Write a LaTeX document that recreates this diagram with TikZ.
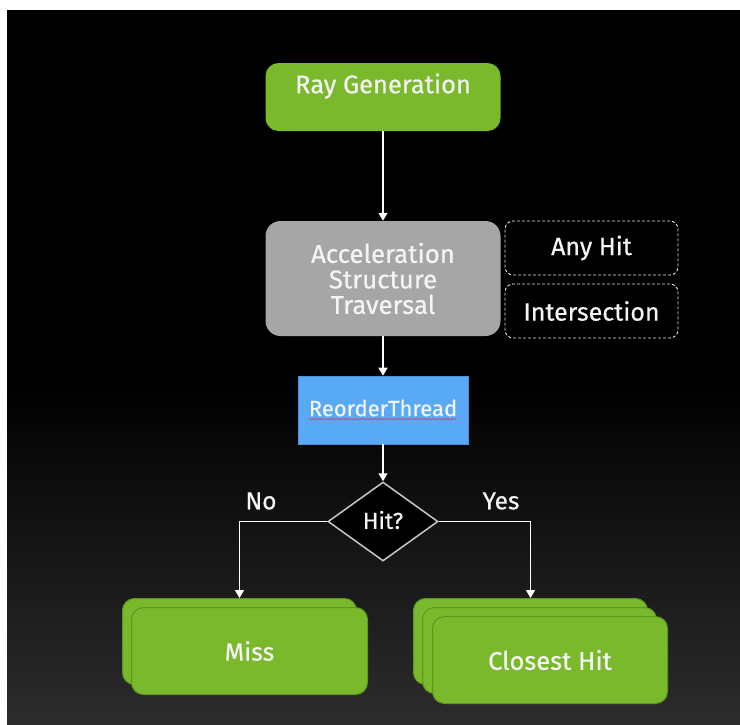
\documentclass[tikz,border=0pt]{standalone}
\usepackage{fontspec}
\setmainfont{Fira Sans}[FakeBold=0.5]
\usetikzlibrary{shapes.geometric,arrows.meta,decorations.pathmorphing}

\definecolor{nvgreen}{HTML}{7AB82C}
\definecolor{nvgreenedge}{HTML}{5E9620}
\definecolor{astgray}{HTML}{A6A6A6}
\definecolor{rtblue}{HTML}{58AAF6}
\definecolor{rtedge}{HTML}{4A92DA}
\definecolor{bgbottom}{HTML}{2C2C2C}
\definecolor{txt}{HTML}{F4F4F4}
\definecolor{diaedge}{HTML}{C8C8C8}
\definecolor{squiggle}{HTML}{D0406A}

\begin{document}
\begin{tikzpicture}[x=1pt,y=-1pt,
  lbl/.style={text=txt, inner sep=0pt, font=\fontsize{25.5}{29}\selectfont},
  greenbox/.style={draw=nvgreenedge, line width=1pt, fill=nvgreen,
    rounded corners=12pt, minimum width=234pt, minimum height=86pt,
    inner sep=0pt, anchor=north west},
  dashbox/.style={draw=white!88!black, line width=0.9pt,
    dash pattern=on 3pt off 2pt, rounded corners=8pt,
    minimum width=173pt, minimum height=54pt, inner sep=0pt,
    text=txt, font=\fontsize{25}{29}\selectfont},
  conn/.style={draw=white, line width=1.6pt,
    -{Triangle[width=9pt,length=8pt]}}
]
% canvas and backdrop
\fill[white] (0,0) rectangle (740,724);
\fill[black] (7,10) rectangle (740,724);
\shade[top color=black, bottom color=bgbottom] (7,380) rectangle (740,724);
\useasboundingbox (0,0) rectangle (740,724);

% ray generation
\node[fill=nvgreen, rounded corners=13pt, minimum width=235pt,
  minimum height=68pt, inner sep=0pt] (raygen) at (383,97) {};
\node[lbl] (raygentext) at (383,86) {Ray Generation};

% traversal
\node[fill=astgray, rounded corners=15pt, minimum width=235pt,
  minimum height=115pt, inner sep=0pt, align=center, text=txt,
  font=\fontsize{25.8}{25.5}\selectfont] (ast) at (383,278.5)
  {Acceleration\\Structure\\Traversal};

% optional shader stages
\node[dashbox] (anyhit) at (591.5,248) {Any Hit};
\node[dashbox] (isect) at (591.5,311) {Intersection};

% reorder step
\node[fill=rtblue, draw=rtedge, line width=0.6pt, minimum width=170pt,
  minimum height=68pt, inner sep=0pt] (reorder) at (383,410) {};
\node[lbl, font=\fontsize{22}{25}\selectfont] (reordertext) at (383,408) {ReorderThread};
\draw[squiggle, line width=0.5pt, decorate,
  decoration={snake, amplitude=0.7pt, segment length=3pt}]
  ([yshift=-3pt]reordertext.base west) -- ([yshift=-3pt]reordertext.base east);

% decision
\node[diamond, draw=diaedge, fill=black, line width=1.5pt,
  minimum width=110pt, minimum height=79pt, inner sep=0pt] (hit) at (383,521.5) {};
\node[lbl, font=\fontsize{23}{26}\selectfont] (hittext) at (383,520) {Hit?};

\node[lbl, font=\fontsize{24.5}{28}\selectfont] (nolbl) at (261,501) {No};
\node[lbl, font=\fontsize{24.5}{28}\selectfont] (yeslbl) at (501,501) {Yes};

% miss stack
\node[greenbox] (missback) at (122,598) {};
\node[greenbox, minimum width=236pt, minimum height=87pt] (miss) at (131,607) {};
\node[lbl, font=\fontsize{25}{29}\selectfont] (misstext) at (miss.center) {Miss};

% closest hit stack
\node[greenbox] (chback) at (413,598) {};
\node[greenbox] (chmid) at (422,607) {};
\node[greenbox, minimum width=235pt, minimum height=87pt] (ch) at (432,616) {};
\node[lbl] (chtext) at (ch.center) {Closest Hit};

% flow
\draw[conn] (raygen) -- (ast);
\draw[conn] (ast) -- (reorder);
\draw[conn] (reorder) -- (hit);
\draw[conn] (hit.west) -| (missback.north);
\draw[conn] (hit.east) -| (chback.north);
\end{tikzpicture}
\end{document}
